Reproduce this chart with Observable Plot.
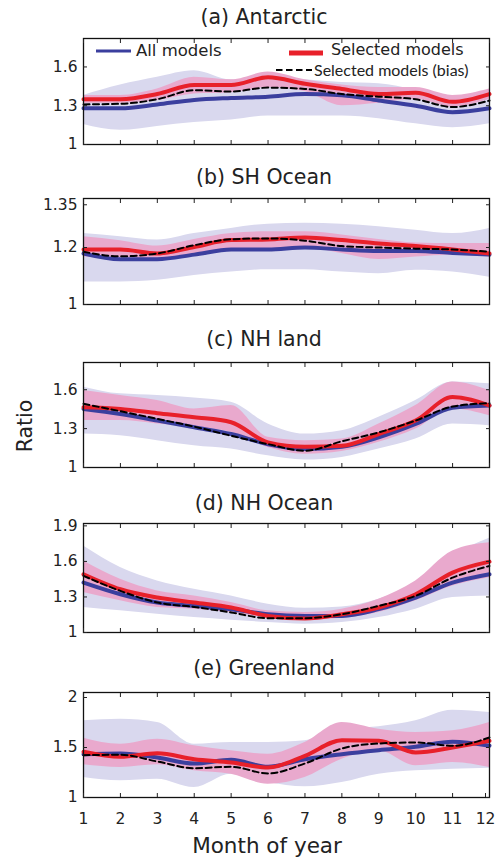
<!DOCTYPE html>
<html><head><meta charset="utf-8">
<script src="https://cdn.jsdelivr.net/npm/d3@7"></script>
<script src="https://cdn.jsdelivr.net/npm/@observablehq/plot@0.6"></script>
<style>
body{margin:0;background:#fff;}
#chart{position:relative;width:496px;height:859px;overflow:hidden;font-family:"DejaVu Sans",sans-serif;background:#fff;}
#overlay{position:absolute;left:0;top:0;}
</style></head><body><div id="chart"></div>
<script>
const months = [1,2,3,4,5,6,7,8,9,10,11,12];

// (a) Antarctic
const antarcticAll   = [1.28,1.28,1.31,1.345,1.36,1.37,1.39,1.38,1.34,1.30,1.25,1.28];
const antarcticAllLo = [1.155,1.11,1.14,1.17,1.19,1.22,1.22,1.22,1.20,1.16,1.13,1.16];
const antarcticAllHi = [1.38,1.46,1.52,1.57,1.50,1.52,1.50,1.48,1.47,1.42,1.34,1.38];
const antarcticSel   = [1.35,1.35,1.39,1.46,1.46,1.52,1.47,1.43,1.39,1.40,1.33,1.39];
const antarcticSelLo = [1.32,1.32,1.34,1.39,1.40,1.44,1.41,1.30,1.32,1.35,1.29,1.35];
const antarcticSelHi = [1.38,1.38,1.43,1.52,1.50,1.56,1.50,1.46,1.44,1.44,1.38,1.43];
const antarcticBias  = [1.31,1.315,1.35,1.42,1.41,1.44,1.43,1.39,1.37,1.35,1.29,1.34];

// (b) SH Ocean
const shOceanAll   = [1.179,1.159,1.159,1.175,1.193,1.193,1.20,1.193,1.188,1.188,1.181,1.175];
const shOceanAllLo = [1.079,1.079,1.085,1.102,1.114,1.122,1.122,1.114,1.108,1.12,1.114,1.096];
const shOceanAllHi = [1.249,1.238,1.226,1.249,1.267,1.282,1.285,1.282,1.273,1.261,1.249,1.267];
const shOceanSel   = [1.193,1.193,1.179,1.202,1.226,1.228,1.235,1.226,1.214,1.205,1.193,1.179];
const shOceanSelLo = [1.167,1.165,1.161,1.173,1.19,1.193,1.20,1.179,1.158,1.167,1.173,1.167];
const shOceanSelHi = [1.238,1.224,1.205,1.228,1.249,1.255,1.255,1.244,1.228,1.216,1.214,1.214];
const shOceanBias  = [1.185,1.169,1.179,1.208,1.229,1.232,1.224,1.205,1.20,1.196,1.193,1.185];

// (c) NH land
const nhLandAll   = [1.452,1.413,1.362,1.31,1.258,1.18,1.142,1.16,1.233,1.336,1.46,1.478];
const nhLandAllLo = [1.258,1.245,1.207,1.168,1.142,1.09,1.057,1.078,1.142,1.22,1.336,1.323];
const nhLandAllHi = [1.62,1.568,1.556,1.537,1.504,1.336,1.258,1.284,1.388,1.517,1.66,1.646];
const nhLandSel   = [1.465,1.452,1.419,1.388,1.349,1.194,1.16,1.168,1.258,1.362,1.543,1.478];
const nhLandSelLo = [1.362,1.362,1.336,1.31,1.271,1.155,1.103,1.124,1.194,1.297,1.452,1.40];
const nhLandSelHi = [1.594,1.556,1.517,1.452,1.478,1.233,1.207,1.22,1.336,1.478,1.66,1.594];
const nhLandBias  = [1.491,1.434,1.375,1.315,1.245,1.18,1.129,1.202,1.271,1.362,1.47,1.496];

// (d) NH Ocean
const nhOceanAll   = [1.421,1.323,1.253,1.225,1.197,1.154,1.14,1.14,1.197,1.295,1.421,1.492];
const nhOceanAllLo = [1.211,1.183,1.154,1.126,1.104,1.084,1.07,1.084,1.126,1.197,1.295,1.309];
const nhOceanAllHi = [1.73,1.548,1.435,1.365,1.309,1.239,1.205,1.216,1.281,1.407,1.646,1.795];
const nhOceanSel   = [1.492,1.365,1.295,1.253,1.211,1.14,1.118,1.154,1.211,1.323,1.506,1.598];
const nhOceanSelLo = [1.337,1.267,1.211,1.197,1.169,1.121,1.104,1.121,1.169,1.267,1.393,1.463];
const nhOceanSelHi = [1.604,1.449,1.351,1.309,1.253,1.183,1.169,1.197,1.281,1.435,1.688,1.758];
const nhOceanBias  = [1.478,1.351,1.253,1.216,1.169,1.121,1.121,1.154,1.225,1.309,1.463,1.562];

// (e) Greenland
const greenlandAll   = [1.433,1.44,1.40,1.34,1.377,1.307,1.383,1.433,1.473,1.507,1.557,1.517];
const greenlandAllLo = [1.20,1.167,1.183,1.10,1.233,1.15,1.107,1.15,1.233,1.267,1.283,1.293];
const greenlandAllHi = [1.767,1.783,1.75,1.533,1.55,1.55,1.567,1.683,1.707,1.767,1.873,1.85];
const greenlandSel   = [1.457,1.407,1.443,1.383,1.35,1.30,1.417,1.573,1.567,1.45,1.50,1.567];
const greenlandSelLo = [1.327,1.30,1.327,1.267,1.233,1.133,1.20,1.383,1.467,1.317,1.35,1.30];
const greenlandSelHi = [1.593,1.533,1.583,1.517,1.467,1.433,1.55,1.75,1.683,1.65,1.667,1.75];
const greenlandBias  = [1.423,1.427,1.36,1.293,1.307,1.24,1.34,1.49,1.54,1.55,1.517,1.60];

const panelTitles = ["(a) Antarctic","(b) SH Ocean","(c) NH land","(d) NH Ocean","(e) Greenland"];
const yTicks = [[1,1.3,1.6],[1,1.2,1.35],[1,1.3,1.6],[1,1.3,1.6,1.9],[1,1.5,2]];
const yMax = [1.82,1.372,1.81,1.92,2.05];
const legendLabels = ["All models","Selected models","Selected models (bias)"];
const xLabel = "Month of year";
const yLabel = "Ratio";

const series = [
  [antarcticAll,antarcticAllLo,antarcticAllHi,antarcticSel,antarcticSelLo,antarcticSelHi,antarcticBias],
  [shOceanAll,shOceanAllLo,shOceanAllHi,shOceanSel,shOceanSelLo,shOceanSelHi,shOceanBias],
  [nhLandAll,nhLandAllLo,nhLandAllHi,nhLandSel,nhLandSelLo,nhLandSelHi,nhLandBias],
  [nhOceanAll,nhOceanAllLo,nhOceanAllHi,nhOceanSel,nhOceanSelLo,nhOceanSelHi,nhOceanBias],
  [greenlandAll,greenlandAllLo,greenlandAllHi,greenlandSel,greenlandSelLo,greenlandSelHi,greenlandBias]
];

// layout
const frameTops = [38,198,362,523,692];
const frameBottoms = [144,304,467,632,797];
const titleBaselines = [24,184,346,510,675];

const BLUE = "#3b3f9e", RED = "#e8202a", LAV = "#d9d8ee", PINK = "#e9a9cd";
const curve = "monotone-x";
const chart = document.getElementById("chart");

series.forEach((s, k) => {
  const rows = months.map((m, i) => ({m, all:s[0][i], allLo:s[1][i], allHi:s[2][i], sel:s[3][i], selLo:s[4][i], selHi:s[5][i], bias:s[6][i]}));
  const last = k === series.length - 1;
  const mt = 4, mb = last ? 30 : 4;
  const h = frameBottoms[k] - frameTops[k] + mt + mb;
  const bottomAxes = last
    ? [
        Plot.axisX({anchor: "bottom", ticks: months.slice(0, -1), tickSize: -4, tickPadding: 19, tickFormat: d => String(d), label: null}),
        Plot.axisX({anchor: "bottom", ticks: months.slice(-1), tickSize: -4, tickPadding: 19, dx: -4, tickFormat: d => String(d), label: null})
      ]
    : [Plot.axisX({anchor: "bottom", ticks: months, tickSize: -4, tickFormat: () => "", label: null})];
  const svg = Plot.plot({
    width: 496, height: h,
    marginLeft: 83, marginRight: 7, marginTop: mt, marginBottom: mb,
    style: {fontFamily: "DejaVu Sans, sans-serif", fontSize: "15.5px", color: "#222", background: "transparent", overflow: "visible"},
    x: {domain: [1, 12]},
    y: {domain: [1, yMax[k]]},
    marks: [
      Plot.areaY(rows, {x: "m", y1: "allLo", y2: "allHi", fill: LAV, curve}),
      Plot.areaY(rows, {x: "m", y1: "selLo", y2: "selHi", fill: PINK, curve}),
      Plot.lineY(rows, {x: "m", y: "all", stroke: BLUE, strokeWidth: 4, curve}),
      Plot.lineY(rows, {x: "m", y: "sel", stroke: RED, strokeWidth: 4, curve}),
      Plot.lineY(rows, {x: "m", y: "bias", stroke: "black", strokeWidth: 2, strokeDasharray: "6,3.5", curve}),
      Plot.frame({stroke: "#111", strokeWidth: 1.3}),
      ...bottomAxes,
      Plot.axisX({anchor: "top", ticks: months, tickSize: -4, tickFormat: () => "", label: null}),
      Plot.axisY({anchor: "left", ticks: yTicks[k], tickSize: -4, tickPadding: 10, tickFormat: d => String(d), label: null}),
      Plot.axisY({anchor: "right", ticks: yTicks[k], tickSize: -4, tickFormat: () => "", label: null})
    ]
  });
  svg.style.position = "absolute";
  svg.style.left = "0px";
  svg.style.top = (frameTops[k] - mt) + "px";
  chart.appendChild(svg);
});

// overlay: titles, axis labels, legend
const NS = "http://www.w3.org/2000/svg";
const ov = document.createElementNS(NS, "svg");
ov.setAttribute("id", "overlay");
ov.setAttribute("width", 496);
ov.setAttribute("height", 859);
function txt(str, attrs) {
  const t = document.createElementNS(NS, "text");
  for (const [a, v] of Object.entries(attrs)) t.setAttribute(a, v);
  t.textContent = str;
  ov.appendChild(t);
}
function ln(attrs) {
  const l = document.createElementNS(NS, "line");
  for (const [a, v] of Object.entries(attrs)) l.setAttribute(a, v);
  ov.appendChild(l);
}
panelTitles.forEach((t, k) => txt(t, {x: 264, y: titleBaselines[k], "text-anchor": "middle", "font-family": "DejaVu Sans", "font-size": 20.5, fill: "#222"}));
txt(xLabel, {x: 267, y: 853, "text-anchor": "middle", "font-family": "DejaVu Sans", "font-size": 21.5, fill: "#222"});
txt(yLabel, {x: 0, y: 0, transform: "translate(32,426) rotate(-90)", "text-anchor": "middle", "font-family": "DejaVu Sans", "font-size": 20.5, fill: "#222"});
// legend
ln({x1: 96, y1: 51, x2: 131, y2: 51, stroke: BLUE, "stroke-width": 3});
txt(legendLabels[0], {x: 136, y: 56, "font-family": "DejaVu Sans", "font-size": 16.5, fill: "#222"});
ln({x1: 289, y1: 53, x2: 323, y2: 53, stroke: RED, "stroke-width": 5});
txt(legendLabels[1], {x: 331, y: 55, "font-family": "DejaVu Sans", "font-size": 16, fill: "#222"});
ln({x1: 276, y1: 70, x2: 312, y2: 70, stroke: "black", "stroke-width": 2, "stroke-dasharray": "6.5,3.5"});
txt(legendLabels[2], {x: 314, y: 76, "font-family": "Lato", "font-size": 16, fill: "#222"});
chart.appendChild(ov);
</script>
</body></html>
